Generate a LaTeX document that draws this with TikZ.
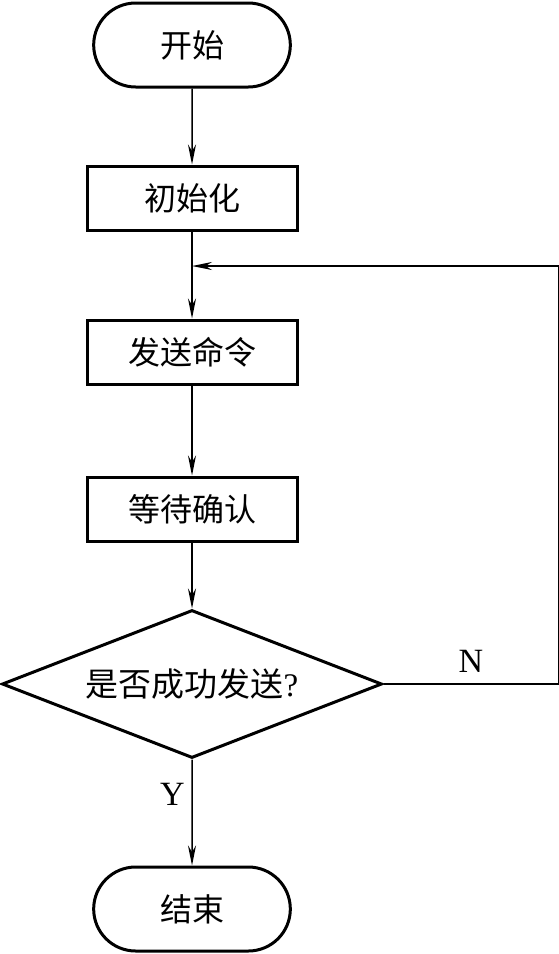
\documentclass[tikz,border=0pt]{standalone}
\usepackage{fontspec}
\setmainfont{Liberation Serif}
\newfontfamily\cjk{Noto Sans CJK SC}
\usetikzlibrary{positioning,arrows.meta,calc,shapes.geometric,shapes.misc}

\begin{document}
\begin{tikzpicture}[
    x=0.5pt, y=-0.5pt,
    font=\fontsize{17}{20}\selectfont,
    term/.style={draw, rounded rectangle, line width=1.5pt, minimum width=105pt, minimum height=42pt, font=\cjk\fontsize{16}{19}\selectfont},
    proc/.style={draw, line width=1.5pt, minimum width=105pt, minimum height=32pt, font=\cjk\fontsize{16}{19}\selectfont},
    decide/.style={draw, diamond, aspect=2.57, line width=1.5pt, minimum width=190pt, minimum height=74pt, inner sep=0pt, font=\fontsize{16.5}{19}\selectfont},
    edge/.style={-{Stealth[length=10pt,width=4pt]}, line width=0.75pt}
]
\useasboundingbox (0,0) rectangle (558,954);

\node[term] (start) at (192,45) {开始};
\node[proc] (init) at (192,198) {初始化};
\node[proc] (send) at (192,352) {发送命令};
\node[proc] (wait) at (192,509) {等待确认};
\node[decide] (check) at (192,684) {{\cjk 是否成功发送}?};
\node[term] (stop) at (192,909) {结束};
\coordinate (join) at (192,266);

\draw[edge] (start) -- (init);
\draw[edge] (init) -- (send);
\draw[edge] (send) -- (wait);
\draw[edge] (wait) -- (check);
\draw[edge] (check) -- node[left, pos=0.33]{Y} (stop);
\draw[edge] (check.east) -- node[above=2pt]{N} ++(175,0) |- (join);
\end{tikzpicture}
\end{document}
